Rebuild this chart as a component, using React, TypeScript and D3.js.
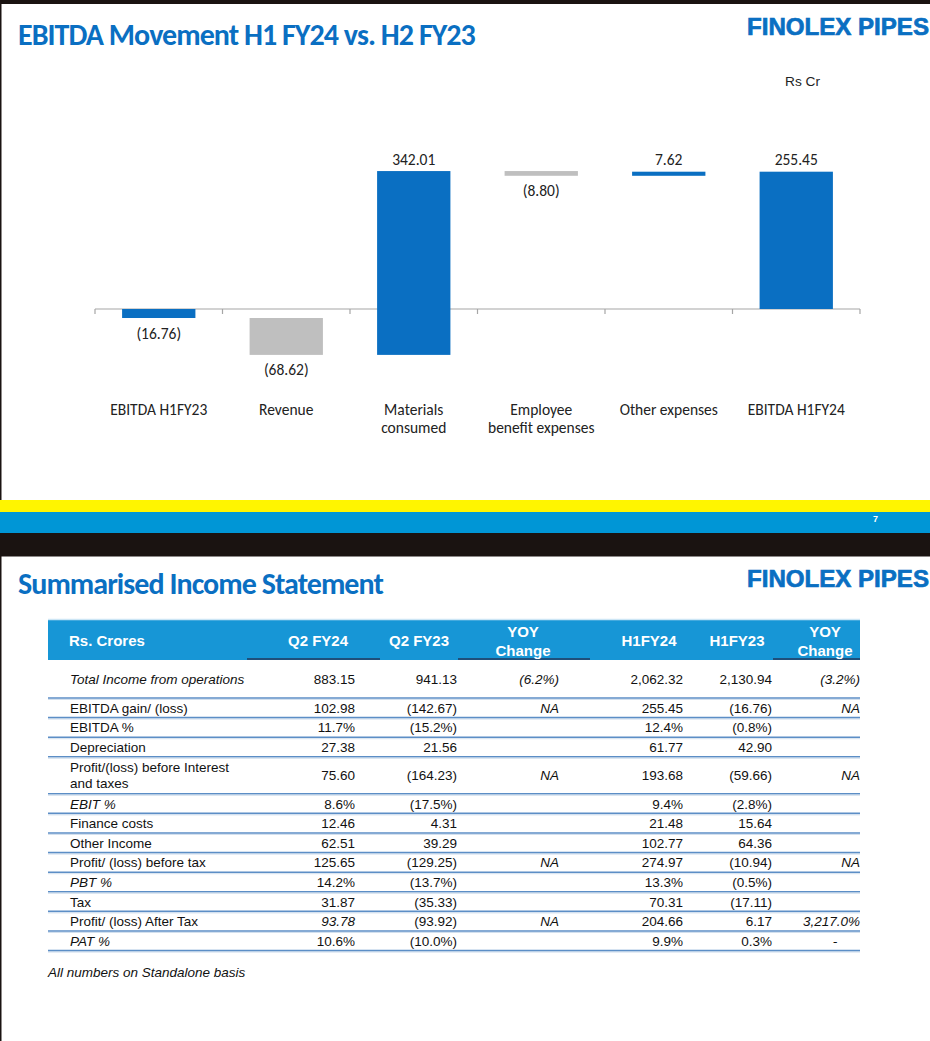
import React from "react";
import * as d3 from "d3";

const categories = ["EBITDA H1FY23", "Revenue", "Materials consumed", "Employee benefit expenses", "Other expenses", "EBITDA H1FY24"];
const catLines = [["EBITDA H1FY23"], ["Revenue"], ["Materials", "consumed"], ["Employee", "benefit expenses"], ["Other expenses"], ["EBITDA H1FY24"]];
const values = [-16.76, -68.62, 342.01, -8.8, 7.62, 255.45];
const isTotal = [true, false, false, false, false, true];

const colLabels = ["Rs. Crores", "Q2 FY24", "Q2 FY23", "YOY Change", "H1FY24", "H1FY23", "YOY Change"];
const rowLabels = [
  ["Total Income from operations"],
  ["EBITDA gain/ (loss)"],
  ["EBITDA %"],
  ["Depreciation"],
  ["Profit/(loss) before Interest", "and taxes"],
  ["EBIT %"],
  ["Finance costs"],
  ["Other Income"],
  ["Profit/ (loss) before tax"],
  ["PBT %"],
  ["Tax"],
  ["Profit/ (loss) After Tax"],
  ["PAT %"],
];
const q2fy24 = ["883.15", "102.98", "11.7%", "27.38", "75.60", "8.6%", "12.46", "62.51", "125.65", "14.2%", "31.87", "93.78", "10.6%"];
const q2fy23 = ["941.13", "(142.67)", "(15.2%)", "21.56", "(164.23)", "(17.5%)", "4.31", "39.29", "(129.25)", "(13.7%)", "(35.33)", "(93.92)", "(10.0%)"];
const yoyQ = ["(6.2%)", "NA", "", "", "NA", "", "", "", "NA", "", "", "NA", ""];
const h1fy24 = ["2,062.32", "255.45", "12.4%", "61.77", "193.68", "9.4%", "21.48", "102.77", "274.97", "13.3%", "70.31", "204.66", "9.9%"];
const h1fy23 = ["2,130.94", "(16.76)", "(0.8%)", "42.90", "(59.66)", "(2.8%)", "15.64", "64.36", "(10.94)", "(0.5%)", "(17.11)", "6.17", "0.3%"];
const yoyH = ["(3.2%)", "NA", "", "", "NA", "", "", "", "NA", "", "", "3,217.0%", "-"];
const italicRows = [0, 5, 9, 12];

const BLUE = "#0A6FC2";
const GRAY = "#BFBFBF";
const TITLE_FONT = "Carlito, Lato, 'Liberation Sans Narrow', sans-serif";
const CHART_FONT = "Carlito, Lato, 'Open Sans', sans-serif";
const TABLE_FONT = "'Liberation Sans', Arial, sans-serif";

const fmt = (v: number) => (v < 0 ? `(${Math.abs(v).toFixed(2)})` : v.toFixed(2));

export default function App() {
  // waterfall
  const x = d3.scaleBand<string>().domain(categories).range([95, 860]).paddingInner(0).paddingOuter(0);
  const y = d3.scaleLinear().domain([-100, 300]).range([309 + 53.75, 309 - 161.25]);
  const barW = x.bandwidth() * 0.575;
  let run = 0;
  const bars = values.map((v, i) => {
    let start: number, end: number;
    if (isTotal[i]) {
      start = 0;
      end = v;
      run = v;
    } else {
      start = run;
      end = run + v;
      run = end;
    }
    const color = isTotal[i] ? BLUE : v < 0 ? GRAY : BLUE;
    return { cat: categories[i], v, start, end, color };
  });
  const y0 = y(0);
  const ticks = d3.range(categories.length + 1).map((i) => 95 + i * x.step());

  // table
  const tableLeft = 48;
  const tableRight = 860;
  const headerTop = 620;
  const headerBottom = 660;
  const tallRows = [0, 4];
  const rowTops: number[] = [];
  let cy = headerBottom;
  rowLabels.forEach((_, i) => {
    rowTops.push(cy);
    cy += tallRows.includes(i) ? (i === 0 ? 38 : 37) : 19.6;
  });
  rowTops.push(cy);
  const colRight = [0, 355, 457, 559, 683, 772, 860];
  const headerCenters = [0, 318, 419, 523, 649, 737, 825];
  const columns = [q2fy24, q2fy23, yoyQ, h1fy24, h1fy23, yoyH];

  return (
    <svg width={930} height={1041} style={{ position: "absolute", left: 0, top: 0, background: "#fff" }}>
      <rect x={0} y={0} width={930} height={1041} fill="#fff" />
      {/* top border */}
      <rect x={0} y={0} width={930} height={4} fill="#1A1311" />
      <rect x={0} y={0} width={1.5} height={1041} fill="#1A1311" />

      {/* titles */}
      <text x={18} y={45} fill={BLUE} fontFamily={TITLE_FONT} fontWeight="bold" fontSize={30} letterSpacing={-0.8} textLength={457} lengthAdjust="spacing">
        EBITDA Movement H1 FY24 vs. H2 FY23
      </text>
      <text x={747} y={35} fill={BLUE} stroke={BLUE} strokeWidth={0.7} fontFamily={TABLE_FONT} fontWeight="bold" fontSize={24} textLength={182} lengthAdjust="spacingAndGlyphs">
        FINOLEX PIPES
      </text>
      <text x={785} y={86} fill="#222" fontFamily={TABLE_FONT} fontSize={13.5} textLength={35} lengthAdjust="spacingAndGlyphs">
        Rs Cr
      </text>

      {/* axis */}
      <line x1={95} x2={860} y1={y0} y2={y0} stroke="#A6A6A6" strokeWidth={1.2} />
      {ticks.map((t, i) => (
        <line key={i} x1={t} x2={t} y1={y0} y2={y0 + 5} stroke="#A6A6A6" strokeWidth={1.2} />
      ))}

      {/* bars */}
      {bars.map((b, i) => {
        const cx = (x(b.cat) as number) + x.bandwidth() / 2;
        const top = y(Math.max(b.start, b.end));
        const bottom = y(Math.min(b.start, b.end));
        const lblY = b.v >= 0 ? top - 6.5 : bottom + 20.5;
        return (
          <g key={i}>
            <rect x={cx - barW / 2} y={top} width={barW} height={Math.max(bottom - top, 1)} fill={b.color} />
            <text x={cx} y={lblY} textAnchor="middle" fontFamily={CHART_FONT} fontSize={15.5} fill="#222">
              {fmt(b.v)}
            </text>
            {catLines[i].map((ln, j) => (
              <text key={j} x={cx} y={414.5 + j * 18} textAnchor="middle" fontFamily={CHART_FONT} fontSize={15.5} fill="#222">
                {ln}
              </text>
            ))}
          </g>
        );
      })}

      {/* bands */}
      <rect x={0} y={500} width={930} height={12} fill="#FFF500" />
      <rect x={0} y={512} width={930} height={21} fill="#0096D6" />
      <rect x={0} y={533} width={930} height={23.5} fill="#1A1311" />
      <text x={873} y={522} fill="#fff" fontFamily={TABLE_FONT} fontWeight="bold" fontSize={9}>
        7
      </text>

      {/* second slide */}
      <text x={18} y={594} fill={BLUE} fontFamily={TITLE_FONT} fontWeight="bold" fontSize={30} letterSpacing={-0.8} textLength={365} lengthAdjust="spacing">
        Summarised Income Statement
      </text>
      <text x={747} y={587} fill={BLUE} stroke={BLUE} strokeWidth={0.7} fontFamily={TABLE_FONT} fontWeight="bold" fontSize={24} textLength={182} lengthAdjust="spacingAndGlyphs">
        FINOLEX PIPES
      </text>

      {/* table header */}
      <rect x={tableLeft} y={headerTop} width={tableRight - tableLeft} height={headerBottom - headerTop} fill="#1796D6" />
      <line x1={tableLeft} x2={tableRight} y1={headerTop - 0.5} y2={headerTop - 0.5} stroke="#CDE6F5" strokeWidth={1.5} />
      {[[247, 380], [458, 590], [773, 860]].map(([a, b], i) => (
        <rect key={i} x={a} y={headerBottom - 2} width={b - a} height={2} fill="#1F4F7A" />
      ))}
      <text x={69} y={646} fill="#fff" fontFamily={TABLE_FONT} fontWeight="bold" fontSize={15}>
        {colLabels[0]}
      </text>
      {colLabels.slice(1).map((c, i) => {
        const cxh = headerCenters[i + 1];
        if (c === "YOY Change") {
          return (
            <text key={i} x={cxh} textAnchor="middle" fill="#fff" fontFamily={TABLE_FONT} fontWeight="bold" fontSize={15}>
              <tspan x={cxh} y={637}>YOY</tspan>
              <tspan x={cxh} y={656}>Change</tspan>
            </text>
          );
        }
        return (
          <text key={i} x={cxh} y={646} textAnchor="middle" fill="#fff" fontFamily={TABLE_FONT} fontWeight="bold" fontSize={15}>
            {c}
          </text>
        );
      })}

      {/* rows */}
      {rowLabels.map((lbl, i) => {
        const t = rowTops[i];
        const b = rowTops[i + 1];
        const mid = (t + b) / 2;
        const it = italicRows.includes(i);
        return (
          <g key={i}>
            {lbl.length === 1 ? (
              <text x={70} y={mid + 5} fontFamily={TABLE_FONT} fontSize={13.5} fill="#111" fontStyle={it ? "italic" : "normal"}>
                {lbl[0]}
              </text>
            ) : (
              <text fontFamily={TABLE_FONT} fontSize={13.5} fill="#111">
                <tspan x={70} y={mid - 3}>{lbl[0]}</tspan>
                <tspan x={70} y={mid + 13}>{lbl[1]}</tspan>
              </text>
            )}
            {columns.map((col, k) => {
              const isYoy = k === 2 || k === 5;
              const ital = isYoy || (k === 0 && i === 11);
              const val = col[i];
              const dash = val === "-";
              return (
                <text
                  key={k}
                  x={dash ? 835 : colRight[k + 1]}
                  y={mid + 5}
                  textAnchor={dash ? "middle" : "end"}
                  fontFamily={TABLE_FONT}
                  fontSize={13.5}
                  fill="#111"
                  fontStyle={ital ? "italic" : "normal"}
                >
                  {val}
                </text>
              );
            })}
            <line x1={tableLeft} x2={tableRight} y1={b} y2={b} stroke="#5C8EC6" strokeWidth={1.6} />
            <line x1={tableLeft} x2={tableRight} y1={b + 1.5} y2={b + 1.5} stroke="#D3E0EE" strokeWidth={1} />
          </g>
        );
      })}

      <text x={48} y={977} fontFamily={TABLE_FONT} fontSize={13.5} fontStyle="italic" fill="#111">
        All numbers on Standalone basis
      </text>
    </svg>
  );
}
